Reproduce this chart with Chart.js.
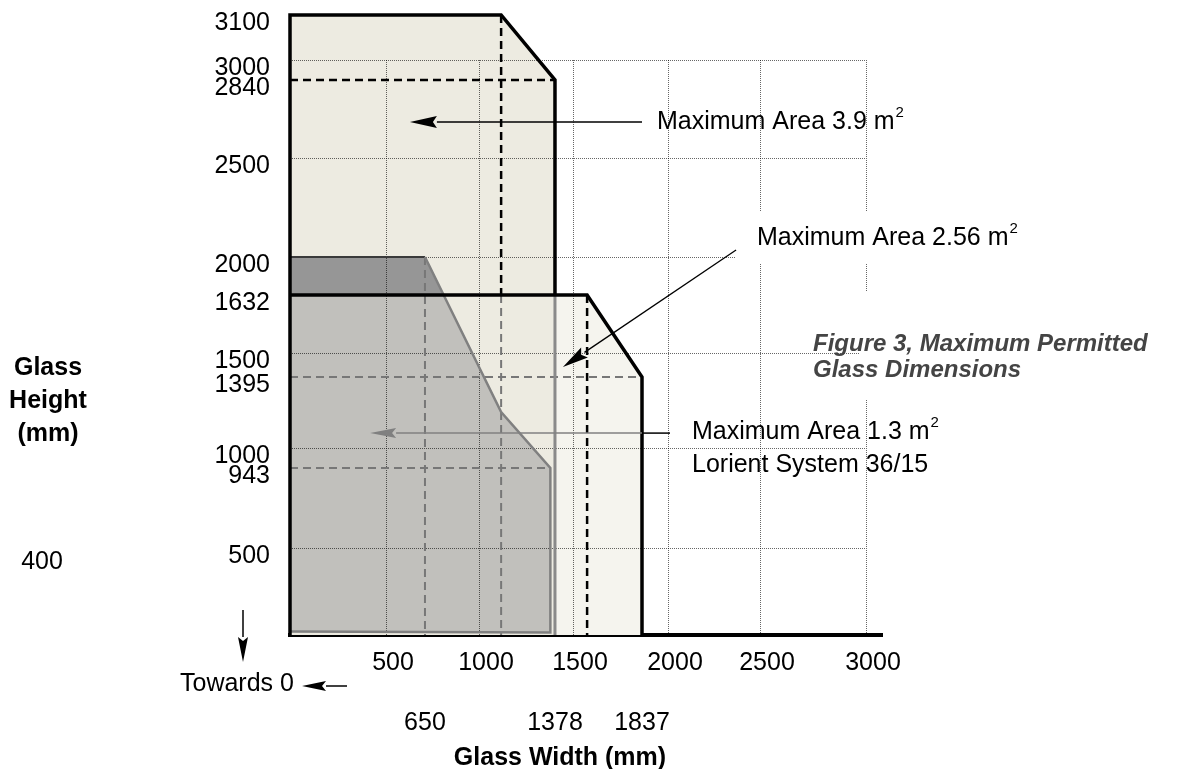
<!DOCTYPE html>
<html lang="en">
<head>
<meta charset="UTF-8">
<title>Maximum Permitted Glass Dimensions</title>
<script src="https://cdn.jsdelivr.net/npm/chart.js@4.4.1/dist/chart.umd.min.js"></script>
<style>
  html, body { margin: 0; padding: 0; background: #fff; }
  #wrap { width: 1201px; height: 769px; }
</style>
</head>
<body>
<div id="wrap"><canvas id="glassChart" width="1201" height="769"></canvas></div>
<script>
// tick labels
const widthTicks = [500, 1000, 1500, 2000, 2500, 3000];
const widthMarks = [650, 1378, 1837];
const heightTicks = [3100, 3000, 2840, 2500, 2000, 1632, 1500, 1395, 1000, 943, 500];
const gridSteps = [500, 1000, 1500, 2000, 2500, 3000];

// Maximum Area 3.9 m2  (width, height in mm)
const big39W = [0, 0, 1110, 1378, 1378, 0];
const big39H = [0, 3100, 3100, 2840, 0, 0];
// Maximum Area 2.56 m2
const mid256W = [0, 0, 1569, 1837, 1837, 0];
const mid256H = [0, 1632, 1632, 1395, 0, 0];
// Maximum Area 1.3 m2, Lorient System 36/15
const small13W = [0, 0, 650, 1110, 1355, 1355, 0];
const small13H = [20, 2000, 2000, 1200, 943, 15, 20];
// part of the 1.3 area above 1632
const small13TopW = [0, 0, 650, 770, 0];
const small13TopH = [1632, 2000, 2000, 1632, 1632];

// dashed guide lines: [w1, h1, w2, h2]
const blackGuides = [[0, 2840, 1378, 2840], [1110, 3100, 1110, 1632], [1569, 1632, 1569, 0]];
const greyGuides = [[1110, 1632, 1110, 0], [650, 2000, 650, 0], [0, 1395, 1837, 1395], [0, 943, 1355, 943]];

// the drawing is not to scale: value -> fraction of the axis
const xStops = [[0, 0], [500, 0.1622], [650, 0.2280], [1000, 0.3193], [1378, 0.4476], [1500, 0.4780],
                [1837, 0.5946], [2000, 0.6385], [2500, 0.7939], [3000, 0.9730], [3080, 1]];
const yStops = [[0, 0], [500, 0.1403], [943, 0.2694], [1000, 0.3016], [1395, 0.4161], [1500, 0.4548],
                [1632, 0.5484], [2000, 0.6097], [2500, 0.7694], [2840, 0.8952], [3000, 0.9274], [3100, 1]];

function toDecimal(stops, v) {
  let i = 1;
  while (i < stops.length - 1 && v > stops[i][0]) i++;
  const [v0, f0] = stops[i - 1], [v1, f1] = stops[i];
  return f0 + (v - v0) * (f1 - f0) / (v1 - v0);
}
function fromDecimal(stops, f) {
  let i = 1;
  while (i < stops.length - 1 && f > stops[i][1]) i++;
  const [v0, f0] = stops[i - 1], [v1, f1] = stops[i];
  return v0 + (f - f0) * (v1 - v0) / (f1 - f0);
}

class StopScale extends Chart.LinearScale {
  getPixelForValue(value) {
    return this.getPixelForDecimal(toDecimal(this.options.stops, value));
  }
  getValueForPixel(pixel) {
    return fromDecimal(this.options.stops, this.getDecimalForPixel(pixel));
  }
}
StopScale.id = 'stops';
StopScale.defaults = Chart.LinearScale.defaults;
Chart.register(StopScale);

const FONT = '"Liberation Sans", Arial, Helvetica, sans-serif';
Chart.defaults.font.family = FONT;
Chart.defaults.color = '#000';

function path(ws, hs) {
  return ws.map((w, i) => ({x: w, y: hs[i]}));
}

const layers = [];
function addLayer(data, style) {
  layers.push(Object.assign({
    data: data, showLine: true, pointRadius: 0, pointHoverRadius: 0,
    borderWidth: 0, borderColor: 'transparent', fill: false, clip: false,
    tension: 0, borderJoinStyle: 'miter', xAxisID: 'x', yAxisID: 'y'
  }, style));
}

// fills
addLayer(path(mid256W, mid256H), {fill: 'shape', backgroundColor: '#F5F4EE'});
addLayer(path(big39W, big39H), {fill: 'shape', backgroundColor: '#EDEBE1'});
addLayer(path(small13W, small13H), {fill: 'shape', backgroundColor: '#C1C0BC'});
addLayer(path(small13TopW, small13TopH), {fill: 'shape', backgroundColor: '#969696'});
const gridAfter = layers.length - 1;

// dashed guides
greyGuides.forEach(g => addLayer(path([g[0], g[2]], [g[1], g[3]]),
  {borderColor: '#777', borderWidth: 2, borderDash: [8, 5]}));
blackGuides.forEach(g => addLayer(path([g[0], g[2]], [g[1], g[3]]),
  {borderColor: '#000', borderWidth: 2.5, borderDash: [8, 5]}));

// outlines
addLayer(path([0, 650], [2000, 2000]), {borderColor: '#3a3a3a', borderWidth: 2});
addLayer(path([0, 1355, 1355, 1110, 650], [20, 15, 943, 1200, 2000]), {borderColor: '#808080', borderWidth: 2.5});
addLayer(path([1378, 1378], [1632, 0]), {borderColor: '#8a8a8a', borderWidth: 3});
addLayer(path([0, 1569, 1837, 1837], [1632, 1632, 1395, 0]), {borderColor: '#000', borderWidth: 3.5});
addLayer(path([0, 0, 1110, 1378, 1378], [0, 3100, 3100, 2840, 1632]), {borderColor: '#000', borderWidth: 3.5});

const datasets = layers.map((d, i) => Object.assign(d, {order: layers.length - i}));

function drawGrid(chart) {
  const {ctx, scales: {x, y}} = chart;
  ctx.save();
  ctx.strokeStyle = 'rgba(0,0,0,0.6)';
  ctx.lineWidth = 1;
  ctx.setLineDash([1, 1]);
  gridSteps.forEach(v => {
    const px = Math.round(x.getPixelForValue(v)) + 0.5;
    ctx.beginPath();
    ctx.moveTo(px, y.getPixelForValue(0));
    ctx.lineTo(px, y.getPixelForValue(3000));
    ctx.stroke();
    const py = Math.round(y.getPixelForValue(v)) + 0.5;
    ctx.beginPath();
    ctx.moveTo(x.getPixelForValue(0), py);
    ctx.lineTo(x.getPixelForValue(3000), py);
    ctx.stroke();
  });
  ctx.restore();
}

function arrow(ctx, x1, y1, x2, y2, color, len, half, width) {
  const a = Math.atan2(y2 - y1, x2 - x1);
  const bx = x2 - len * Math.cos(a), by = y2 - len * Math.sin(a);
  ctx.strokeStyle = color;
  ctx.fillStyle = color;
  ctx.lineWidth = width;
  ctx.beginPath();
  ctx.moveTo(x1, y1);
  ctx.lineTo(bx, by);
  ctx.stroke();
  ctx.beginPath();
  ctx.moveTo(x2, y2);
  ctx.lineTo(bx + half * Math.sin(a), by - half * Math.cos(a));
  ctx.lineTo(bx + 4 * Math.cos(a), by + 4 * Math.sin(a));
  ctx.lineTo(bx - half * Math.sin(a), by + half * Math.cos(a));
  ctx.closePath();
  ctx.fill();
}

function areaText(ctx, txt, x, y) {
  ctx.font = '25px ' + FONT;
  ctx.fillText(txt, x, y);
  const w = ctx.measureText(txt).width;
  ctx.font = '15px ' + FONT;
  ctx.fillText('2', x + w + 1, y - 9);
}

function drawNotes(chart) {
  const {ctx, scales: {x, y}} = chart;
  const X = v => x.getPixelForValue(v), Y = v => y.getPixelForValue(v);
  ctx.save();
  // gaps in the grid behind the labels
  ctx.fillStyle = '#fff';
  ctx.fillRect(736, 212, 290, 51);
  ctx.fillRect(860, 292, 341, 108);

  arrow(ctx, X(1837), Y(2657), X(592), Y(2657), '#000', 27, 6, 1.5);
  arrow(ctx, X(2370), Y(2035), X(1432), Y(1439), '#000', 26, 6, 1.3);
  arrow(ctx, X(1837), Y(1083), X(417), Y(1083), '#808080', 26, 5, 1.5);
  ctx.strokeStyle = '#000';
  ctx.lineWidth = 1.5;
  ctx.beginPath();
  ctx.moveTo(X(2011), Y(1083));
  ctx.lineTo(X(1837), Y(1083));
  ctx.stroke();

  ctx.fillStyle = '#000';
  ctx.textAlign = 'left';
  ctx.textBaseline = 'middle';
  areaText(ctx, 'Maximum Area 3.9 m', 657, 122);
  areaText(ctx, 'Maximum Area 2.56 m', 757, 238);
  areaText(ctx, 'Maximum Area 1.3 m', 692, 432);
  ctx.font = '25px ' + FONT;
  ctx.fillText('Lorient System 36/15', 692, 465);

  ctx.fillStyle = '#444';
  ctx.font = 'italic bold 24px ' + FONT;
  ctx.fillText('Figure 3, Maximum Permitted', 813, 344);
  ctx.fillText('Glass Dimensions', 813, 370);

  ctx.fillStyle = '#000';
  ctx.textAlign = 'center';
  ctx.font = 'bold 25px ' + FONT;
  ctx.fillText('Glass', 48, 368);
  ctx.fillText('Height', 48, 401);
  ctx.fillText('(mm)', 48, 434);
  ctx.fillText('Glass Width (mm)', 560, 758);
  ctx.font = '25px ' + FONT;
  ctx.fillText('400', 42, 562);
  ctx.textAlign = 'left';
  ctx.fillText('Towards 0', 180, 684);

  arrow(ctx, 243, 610, 243, 662, '#000', 25, 5, 1.5);
  arrow(ctx, 347, 686, 302, 686, '#000', 24, 5, 1.5);
  ctx.restore();
}

const sketchPlugin = {
  id: 'sketch',
  afterDatasetDraw(chart, args) {
    if (args.index === gridAfter) drawGrid(chart);
  },
  afterDraw(chart) {
    drawNotes(chart);
  }
};

function noPad(s) {
  s.paddingTop = 0;
  s.paddingBottom = 0;
  s.paddingLeft = 0;
  s.paddingRight = 0;
}

new Chart(document.getElementById('glassChart'), {
  type: 'scatter',
  data: {datasets: datasets},
  plugins: [sketchPlugin],
  options: {
    responsive: false,
    animation: false,
    events: [],
    devicePixelRatio: 1,
    layout: {padding: {top: 15, right: 319, bottom: 0, left: 0}},
    plugins: {legend: {display: false}, tooltip: {enabled: false}},
    scales: {
      x: {
        type: 'stops', stops: xStops, min: 0, max: 3080, position: 'bottom', weight: 0, z: 1,
        grid: {display: false, drawTicks: false},
        border: {display: true, color: '#000', width: 4},
        ticks: {font: {size: 25}, padding: 13, labelOffset: 7, autoSkip: false, maxRotation: 0,
                callback: v => String(v)},
        afterBuildTicks: s => { s.ticks = widthTicks.map(v => ({value: v})); },
        afterFit: s => { s.height = 60; noPad(s); }
      },
      x2: {
        type: 'stops', stops: xStops, min: 0, max: 3080, position: 'bottom', weight: 1,
        grid: {display: false, drawTicks: false},
        border: {display: false},
        ticks: {font: {size: 25}, padding: 13, autoSkip: false, maxRotation: 0,
                callback: v => String(v)},
        afterBuildTicks: s => { s.ticks = widthMarks.map(v => ({value: v})); },
        afterFit: s => { s.height = 74; noPad(s); }
      },
      y: {
        type: 'stops', stops: yStops, min: 0, max: 3100, position: 'left',
        grid: {display: false, drawTicks: false},
        border: {display: false},
        ticks: {font: {size: 25}, padding: 20, labelOffset: 8, autoSkip: false,
                callback: v => String(v)},
        afterBuildTicks: s => { s.ticks = heightTicks.map(v => ({value: v})); },
        afterFit: s => { s.width = 290; noPad(s); }
      }
    }
  }
});
</script>
</body>
</html>
